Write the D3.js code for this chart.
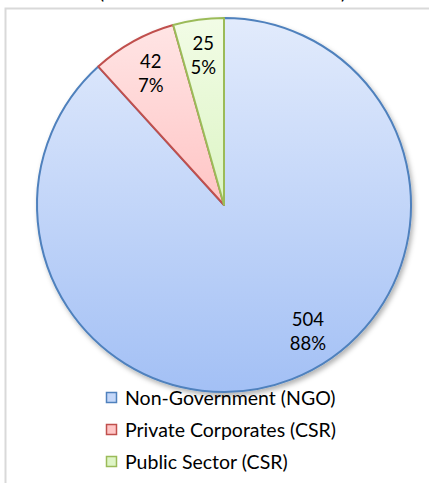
<!DOCTYPE html>
<html>
<head>
<meta charset="utf-8">
<script src="https://cdn.jsdelivr.net/npm/d3@7"></script>
<style>
  html, body { margin: 0; padding: 0; background: #ffffff; }
  svg { display: block; }
</style>
</head>
<body>
<svg id="chart" width="429" height="483"></svg>
<script>
// Organisations by sector
const categories = ["Non-Government (NGO)", "Private Corporates (CSR)", "Public Sector (CSR)"];
const counts = [504, 42, 25];
const percentLabels = ["88%", "7%", "5%"];

const strokeColors = ["#4f81bd", "#c0504d", "#9bbb59"];
const gradTop = ["#e2ebfc", "#ffe6e6", "#f2fce6"];
const gradBottom = ["#a3c0f5", "#ffa3a3", "#c6eda2"];
const legendFill = ["#c4d7f9", "#ffc6c6", "#def5c6"];

const W = 429, H = 483;
const cx = 224, cy = 205, R = 187;
const font = "Lato, 'Open Sans', sans-serif";

const svg = d3.select("#chart");
const defs = svg.append("defs");

// Soft drop shadow under the pie
const shadow = defs.append("filter").attr("id", "shadow")
  .attr("x", "-10%").attr("y", "-10%").attr("width", "120%").attr("height", "120%");
shadow.append("feDropShadow")
  .attr("dx", 2).attr("dy", 3).attr("stdDeviation", 2.5)
  .attr("flood-color", "#000").attr("flood-opacity", 0.3);

// Vertical fill gradients across the whole pie, one per series
categories.forEach((c, i) => {
  const g = defs.append("linearGradient").attr("id", "grad" + i)
    .attr("gradientUnits", "userSpaceOnUse")
    .attr("x1", 0).attr("y1", -R).attr("x2", 0).attr("y2", R);
  g.append("stop").attr("offset", "0%").attr("stop-color", gradTop[i]);
  g.append("stop").attr("offset", "100%").attr("stop-color", gradBottom[i]);
});

// Frame of the chart area (extends past the right and bottom edges)
svg.append("path")
  .attr("d", `M5.5,${H + 2} V8.5 H${W + 2}`)
  .attr("fill", "none").attr("stroke", "#d9d9d9").attr("stroke-width", 2);

// Bottom of the title line, cut off at the top edge
svg.append("text").attr("x", 99).attr("y", -1)
  .attr("font-family", font).attr("font-size", 19).attr("fill", "#000").text("(");
svg.append("text").attr("x", 341).attr("y", -1)
  .attr("font-family", font).attr("font-size", 19).attr("fill", "#000").text(")");

const pie = d3.pie().sort(null).value(d => d)(counts);
const arc = d3.arc().innerRadius(0).outerRadius(R);

const g = svg.append("g").attr("transform", `translate(${cx},${cy})`);

g.append("g").attr("filter", "url(#shadow)")
  .selectAll("path").data(pie).join("path")
  .attr("d", arc)
  .attr("fill", (d, i) => `url(#grad${i})`)
  .attr("stroke", (d, i) => strokeColors[i])
  .attr("stroke-width", 2)
  .attr("stroke-linejoin", "round");

// Data labels: count above percentage
const labelR = 151;
const labels = g.append("g").selectAll("text").data(pie).join("text")
  .attr("font-family", font).attr("font-size", 18.5).attr("fill", "#000")
  .attr("text-anchor", "middle")
  .attr("transform", (d, i) => {
    let a = (d.startAngle + d.endAngle) / 2;
    if (i === 0) a -= 0.22; // large slice label sits a little higher
    return `translate(${labelR * Math.sin(a)},${-labelR * Math.cos(a)})`;
  });
labels.append("tspan").attr("x", 0).attr("y", -5).text(d => d.data);
labels.append("tspan").attr("x", 0).attr("y", 19).text((d, i) => percentLabels[i]);

// Legend
const legend = svg.append("g").attr("transform", "translate(106,398)");
const rows = legend.selectAll("g").data(categories).join("g")
  .attr("transform", (d, i) => `translate(0,${i * 32})`);
rows.append("rect")
  .attr("x", 0.5).attr("y", -5.5).attr("width", 10).attr("height", 10)
  .attr("fill", (d, i) => legendFill[i])
  .attr("stroke", (d, i) => strokeColors[i]).attr("stroke-width", 1.5);
rows.append("text")
  .attr("x", 19).attr("y", 6.5)
  .attr("font-family", font).attr("font-size", 19.5).attr("fill", "#000")
  .text(d => d);
</script>
</body>
</html>
